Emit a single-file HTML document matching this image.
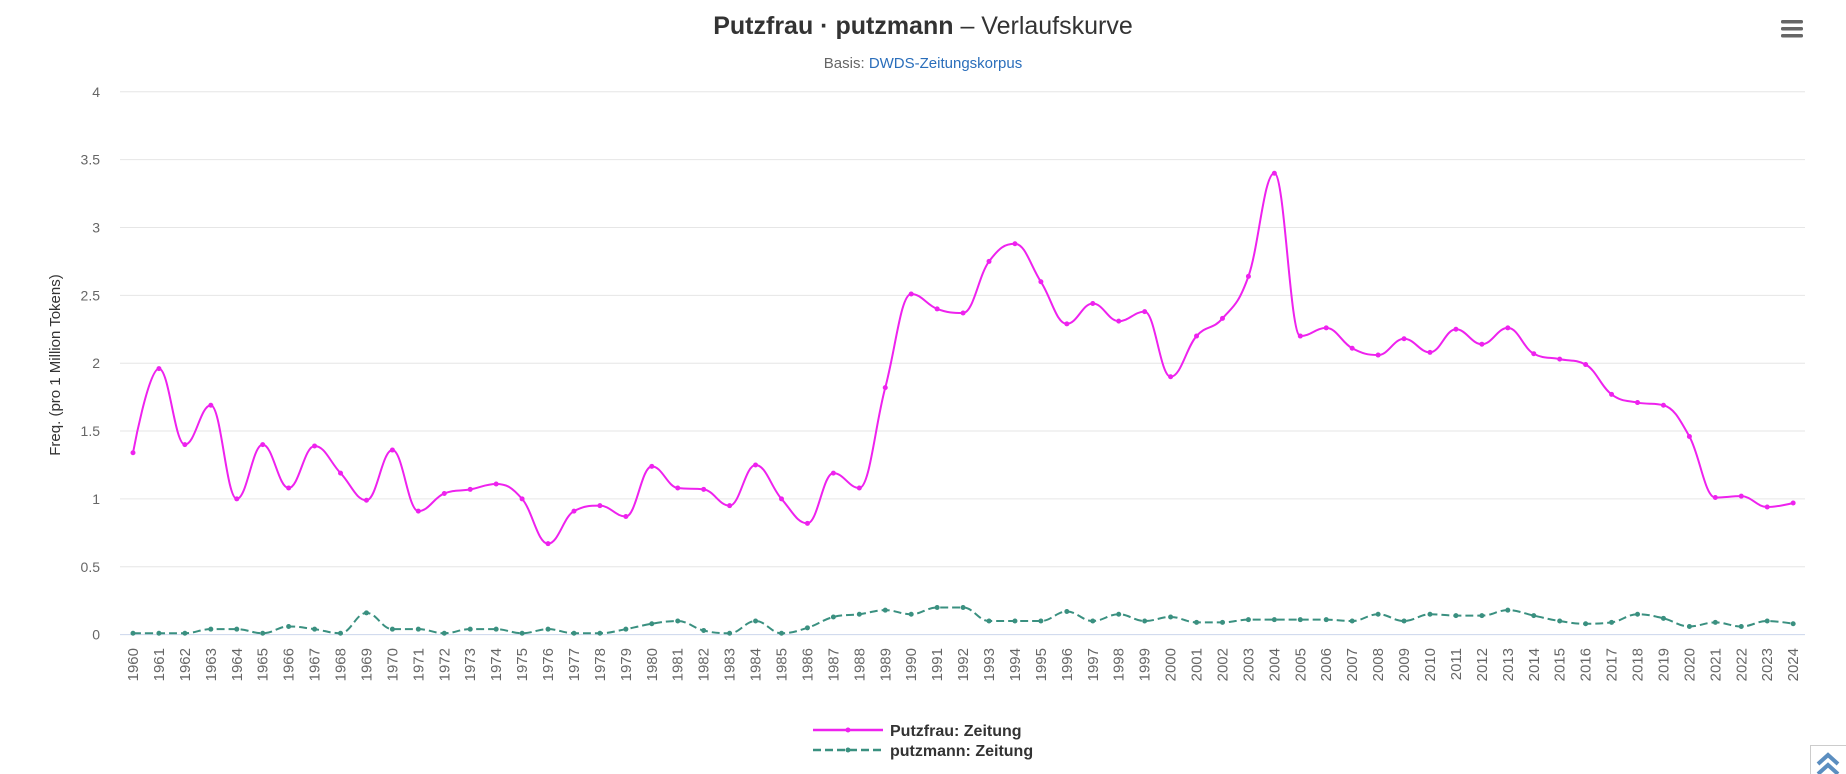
<!DOCTYPE html>
<html><head><meta charset="utf-8"><style>
html,body{margin:0;padding:0;background:#fff;width:1846px;height:774px;overflow:hidden;font-family:"Liberation Sans",sans-serif}
</style></head><body>
<svg id="s" width="1846" height="774" xmlns="http://www.w3.org/2000/svg" font-family="'Liberation Sans',sans-serif">
<text x="923" y="34" text-anchor="middle" font-size="25" fill="#333"><tspan font-weight="bold">Putzfrau · putzmann</tspan> – Verlaufskurve</text>
<text x="923" y="68" text-anchor="middle" font-size="15" fill="#666">Basis: <tspan fill="#2a6ebb">DWDS-Zeitungskorpus</tspan></text>
<g fill="#666"><rect x="1781" y="20" width="22" height="3.5" rx="1.5"/><rect x="1781" y="27" width="22" height="3.5" rx="1.5"/><rect x="1781" y="34" width="22" height="3.5" rx="1.5"/></g>
<g id="grid"></g>
<text transform="translate(60,365) rotate(-90)" text-anchor="middle" font-size="15" fill="#333">Freq. (pro 1 Million Tokens)</text>
<g id="series"></g>
<g font-size="16" font-weight="bold" fill="#333">
<line x1="813" y1="730" x2="883" y2="730" stroke="#ee22ee" stroke-width="2.5"/><circle cx="848" cy="730" r="2.5" fill="#ee22ee"/>
<text x="890" y="736">Putzfrau: Zeitung</text>
<line x1="813" y1="750" x2="883" y2="750" stroke="#3a9080" stroke-width="2.5" stroke-dasharray="8,4"/><circle cx="848" cy="750" r="2.5" fill="#3a9080"/>
<text x="890" y="756">putzmann: Zeitung</text>
</g>
<rect x="1810.5" y="745.5" width="36" height="30" fill="#fff" stroke="#ccc"/>
<path d="M1818 764 l10 -9 l10 9 M1818 774 l10 -9 l10 9" stroke="#5b8ec0" stroke-width="4" fill="none"/>
</svg>
<script>
var L=120,R=1805,Y0=634.6,U=135.7,X0=133,ST=25.94;
var a=[1.34,1.96,1.40,1.69,1.00,1.40,1.08,1.39,1.19,0.99,1.36,0.91,1.04,1.07,1.11,1.00,0.67,0.91,0.95,0.87,1.24,1.08,1.07,0.95,1.25,1.00,0.82,1.19,1.08,1.82,2.51,2.40,2.37,2.75,2.88,2.60,2.29,2.44,2.31,2.38,1.90,2.20,2.33,2.64,3.40,2.20,2.26,2.11,2.06,2.18,2.08,2.25,2.14,2.26,2.07,2.03,1.99,1.77,1.71,1.69,1.46,1.01,1.02,0.94,0.97];
var b=[.01,.01,.01,.04,.04,.01,.06,.04,.01,.16,.04,.04,.01,.04,.04,.01,.04,.01,.01,.04,.08,.1,.03,.01,.1,.01,.05,.13,.15,.18,.15,.2,.2,.1,.1,.1,.17,.1,.15,.1,.13,.09,.09,.11,.11,.11,.11,.1,.15,.1,.15,.14,.14,.18,.14,.1,.08,.09,.15,.12,.06,.09,.06,.10,.08];
var NS="http://www.w3.org/2000/svg",g=document.getElementById('grid'),se=document.getElementById('series');
function el(t,at,p){var e=document.createElementNS(NS,t);for(var k in at)e.setAttribute(k,at[k]);p.appendChild(e);return e;}
for(var i=0;i<=8;i++){var y=Y0-i*U/2;el('line',{x1:L,x2:R,y1:y,y2:y,stroke:i?'#e6e6e6':'#ccd6eb','stroke-width':1},g);
var t=el('text',{x:100,y:y+5,'text-anchor':'end','font-size':14,fill:'#666'},g);t.textContent=(i/2).toString();}
for(var i=0;i<65;i++){var x=X0+i*ST;var t=el('text',{transform:'translate('+(x+5)+',648) rotate(-90)','text-anchor':'end','font-size':15,fill:'#666'},g);t.textContent=1960+i;}
function path(d){var P=d.map(function(v,i){return [X0+i*ST,Y0-v*U]});var s='M'+P[0][0]+' '+P[0][1];var rc=[P[0][0],P[0][1]];
for(var i=1;i<P.length;i++){var p=P[i],lc=[p[0],p[1]],nrc=[p[0],p[1]];
if(i<P.length-1){var pr=P[i-1],nx=P[i+1];var lx=(1.5*p[0]+pr[0])/2.5,ly=(1.5*p[1]+pr[1])/2.5,rx=(1.5*p[0]+nx[0])/2.5,ry=(1.5*p[1]+nx[1])/2.5;
var c=((ry-ly)*(rx-p[0]))/(rx-lx)+p[1]-ry;ly+=c;ry+=c;
if(ly>pr[1]&&ly>p[1]){ly=Math.max(pr[1],p[1]);ry=2*p[1]-ly;}else if(ly<pr[1]&&ly<p[1]){ly=Math.min(pr[1],p[1]);ry=2*p[1]-ly;}
if(ry>nx[1]&&ry>p[1]){ry=Math.max(nx[1],p[1]);ly=2*p[1]-ry;}else if(ry<nx[1]&&ry<p[1]){ry=Math.min(nx[1],p[1]);ly=2*p[1]-ry;}
lc=[lx,ly];nrc=[rx,ry];}
s+=' C'+rc[0]+' '+rc[1]+' '+lc[0]+' '+lc[1]+' '+p[0]+' '+p[1];rc=nrc;}
return [s,P];}
function draw(d,col,dash){var r=path(d);var at={d:r[0],fill:'none',stroke:col,'stroke-width':2};if(dash)at['stroke-dasharray']='8,4';el('path',at,se);
r[1].forEach(function(p){el('circle',{cx:p[0],cy:p[1],r:2.5,fill:col},se);});}
draw(b,'#3a9080',true);draw(a,'#ee22ee',false);
</script>
</body></html>
